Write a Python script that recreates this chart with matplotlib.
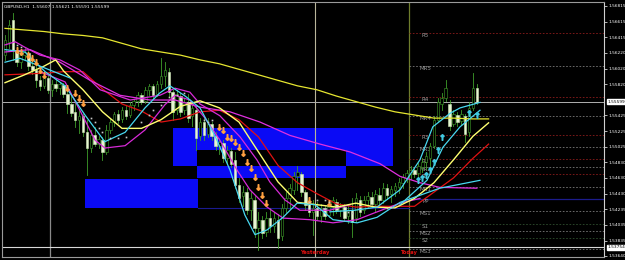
import matplotlib
matplotlib.use("Agg")
import matplotlib.pyplot as plt
from matplotlib.patches import Rectangle

# ---------------- data ----------------
opens = [1.5619,1.5636,1.5664,1.5626,1.5610,1.5619,1.5622,1.5605,1.5600,1.5587,
         1.5580,1.5590,1.5575,1.5582,1.5577,1.5581,1.5570,1.5557,1.5547,1.5537,
         1.5542,1.5521,1.5501,1.5517,1.5506,1.5511,1.5496,1.5524,1.5534,1.5544,
         1.5538,1.5549,1.5543,1.5556,1.5561,1.5568,1.5561,1.5575,1.5580,1.5570,
         1.5582,1.5592,1.5598,1.5572,1.5549,1.5567,1.5549,1.5559,1.5542,1.5549,
         1.5516,1.5534,1.5519,1.5531,1.5516,1.5504,1.5507,1.5488,1.5497,1.5486,
         1.5454,1.5440,1.5445,1.5422,1.5435,1.5399,1.5410,1.5394,1.5412,1.5402,
         1.5410,1.5389,1.5425,1.5437,1.5448,1.5465,1.5468,1.5445,1.5430,1.5420,
         1.5425,1.5415,1.5425,1.5416,1.5426,1.5432,1.5422,1.5426,1.5415,1.5422,
         1.5412,1.5435,1.5422,1.5435,1.5439,1.5430,1.5441,1.5435,1.5450,1.5443,
         1.5448,1.5451,1.5457,1.5463,1.5468,1.5473,1.5469,1.5477,1.5483,1.5488,
         1.5504,1.5537,1.5557,1.5564,1.5557,1.5531,1.5543,1.5535,1.5542,1.5521,
         1.5552,1.5577]
highs = [1.5645,1.5664,1.5672,1.5629,1.5623,1.5628,1.5626,1.5613,1.5610,1.5592,
         1.5596,1.5594,1.5587,1.5587,1.5585,1.5584,1.5575,1.5568,1.5562,1.5549,
         1.5544,1.5537,1.5524,1.5528,1.5516,1.5515,1.5530,1.5539,1.5547,1.5549,
         1.5553,1.5554,1.5559,1.5563,1.5572,1.5571,1.5578,1.5582,1.5582,1.5586,
         1.5615,1.5610,1.5603,1.5575,1.5575,1.5571,1.5564,1.5570,1.5558,1.5554,
         1.5539,1.5539,1.5539,1.5534,1.5521,1.5514,1.5511,1.5504,1.5501,1.5496,
         1.5463,1.5453,1.5450,1.5445,1.5440,1.5420,1.5415,1.5420,1.5425,1.5420,
         1.5417,1.5430,1.5445,1.5455,1.5471,1.5478,1.5471,1.5448,1.5437,1.5435,
         1.5432,1.5430,1.5427,1.5431,1.5439,1.5436,1.5431,1.5430,1.5427,1.5437,
         1.5444,1.5440,1.5440,1.5445,1.5445,1.5448,1.5450,1.5457,1.5455,1.5453,
         1.5457,1.5463,1.5468,1.5473,1.5478,1.5477,1.5482,1.5488,1.5496,1.5507,
         1.5542,1.5564,1.5571,1.5587,1.5562,1.5549,1.5547,1.5549,1.5544,1.5559,
         1.5596,1.5582]
lows = [1.5613,1.5628,1.5613,1.5605,1.5603,1.5613,1.5600,1.5595,1.5578,1.5575,
        1.5577,1.5571,1.5567,1.5573,1.5570,1.5566,1.5545,1.5542,1.5528,1.5520,
        1.5516,1.5467,1.5496,1.5504,1.5501,1.5486,1.5493,1.5520,1.5529,1.5533,
        1.5534,1.5538,1.5540,1.5549,1.5554,1.5557,1.5558,1.5568,1.5564,1.5567,
        1.5577,1.5580,1.5567,1.5537,1.5544,1.5542,1.5544,1.5534,1.5529,1.5498,
        1.5511,1.5511,1.5515,1.5511,1.5498,1.5493,1.5483,1.5481,1.5477,1.5450,
        1.5432,1.5427,1.5417,1.5410,1.5388,1.5372,1.5387,1.5389,1.5394,1.5394,
        1.5374,1.5384,1.5420,1.5425,1.5443,1.5448,1.5440,1.5422,1.5415,1.5391,
        1.5410,1.5407,1.5411,1.5413,1.5416,1.5418,1.5415,1.5408,1.5406,1.5388,
        1.5407,1.5415,1.5418,1.5425,1.5426,1.5420,1.5430,1.5431,1.5436,1.5432,
        1.5440,1.5444,1.5450,1.5458,1.5462,1.5464,1.5465,1.5471,1.5474,1.5478,
        1.5501,1.5534,1.5549,1.5561,1.5524,1.5529,1.5529,1.5531,1.5509,1.5516,
        1.5549,1.5557]
closes = [1.5638,1.5657,1.5626,1.5610,1.5619,1.5623,1.5605,1.5600,1.5587,1.5580,
          1.5591,1.5575,1.5582,1.5577,1.5582,1.5570,1.5557,1.5545,1.5537,1.5542,
          1.5521,1.5501,1.5517,1.5506,1.5512,1.5496,1.5524,1.5534,1.5544,1.5537,
          1.5549,1.5542,1.5556,1.5561,1.5568,1.5559,1.5575,1.5580,1.5568,1.5582,
          1.5592,1.5600,1.5572,1.5547,1.5570,1.5547,1.5559,1.5539,1.5552,1.5514,
          1.5534,1.5517,1.5531,1.5516,1.5504,1.5509,1.5488,1.5498,1.5481,1.5454,
          1.5437,1.5445,1.5422,1.5437,1.5399,1.5410,1.5393,1.5412,1.5402,1.5412,
          1.5387,1.5425,1.5437,1.5450,1.5465,1.5471,1.5445,1.5429,1.5420,1.5425,
          1.5415,1.5425,1.5415,1.5426,1.5435,1.5422,1.5427,1.5412,1.5422,1.5407,
          1.5437,1.5420,1.5435,1.5440,1.5430,1.5443,1.5435,1.5450,1.5441,1.5449,
          1.5453,1.5458,1.5464,1.5469,1.5473,1.5468,1.5478,1.5483,1.5491,1.5504,
          1.5537,1.5559,1.5564,1.5577,1.5529,1.5544,1.5534,1.5544,1.5519,1.5552,
          1.5577,1.5560]

slow_yellow_x = [0,5,10,15,20,25,30,35,40,45,50,55,60,65,70,75,80,85,90,95,100,105,110,115,120,124]
slow_yellow_y = [1.5653,1.5651,1.5649,1.5646,1.5644,1.5641,1.5634,1.5627,1.5623,1.5619,1.5613,1.5608,1.5601,
                 1.5594,1.5587,1.5580,1.5575,1.5567,1.5560,1.5553,1.5547,1.5543,1.5539,1.5539,1.5538,1.5538]
fast_yellow_x = [0,5,10,13,15,20,25,30,35,40,45,50,55,60,65,70,75,80,85,90,95,100,105,110,115,120,124]
fast_yellow_y = [1.5584,1.5594,1.5605,1.5613,1.5599,1.5575,1.5547,1.5526,1.5526,1.5537,1.5554,1.5561,1.5552,1.5534,
                 1.5496,1.5458,1.5432,1.5429,1.5426,1.5431,1.5426,1.5425,1.5437,1.5457,1.5486,1.5516,1.5533]
red_x = [0,5,10,15,20,25,30,35,40,45,50,55,60,65,70,75,80,85,90,95,100,105,110,115,120,124]
red_y = [1.5594,1.5595,1.5596,1.5598,1.5598,1.5576,1.5557,1.5548,1.5534,1.5538,1.5547,1.5549,1.5537,
         1.5515,1.5479,1.5457,1.5443,1.5430,1.5426,1.5427,1.5427,1.5427,1.5445,1.5463,1.5488,1.5506]
cyan1_x = [0,5.1,10.3,15.4,20.5,25.6,30.8,35.9,39.7,42.3,46.2,50,53.8,57.7,61.5,64.1,67.2,71.3,74.9,79.5,
           84.1,90.3,95.4,101.3,111.5,121.8]
cyan1_y = [1.5626,1.5623,1.5598,1.5580,1.5543,1.5509,1.5521,1.5552,1.5571,1.5580,1.5567,1.5552,1.5517,1.5473,
           1.5416,1.5391,1.5397,1.5413,1.5431,1.5429,1.5410,1.5406,1.5413,1.5432,1.5450,1.5460]
cyan2_x = [83.3,89.7,95.4,101.3,106.4,109.7,114.1,116.7,121.8]
cyan2_y = [1.5420,1.5422,1.5426,1.5448,1.5486,1.5528,1.5545,1.5552,1.5559]
cyan3_x = [101.3,108.2,112.3,116.7,121.8]
cyan3_y = [1.5429,1.5460,1.5502,1.5528,1.5549]
cyan4_x = [0,3.8,9,14.1,16.7]
cyan4_y = [1.5610,1.5615,1.5605,1.5595,1.5590]
mag_slow_x = [0,6.4,14.1,21.8,29.5,37.2,43.6,50,57.7,65.4,73.1,80.8,88.5,96.2,101.3,106.4,111.5,121]
mag_slow_y = [1.5623,1.5626,1.5610,1.5587,1.5568,1.5562,1.5562,1.5553,1.5547,1.5534,1.5517,1.5506,1.5496,
              1.5481,1.5465,1.5457,1.5451,1.5450]
mag_up_x = [0,2.6,5.1,9,14.1,19.2,24.4,32.1,39.7,43.6,47.4,50,55.1,60.3,64.6,67.9,71.8,75.6,83.3,88.5]
mag_up_y = [1.5632,1.5636,1.5629,1.5619,1.5613,1.5600,1.5575,1.5562,1.5568,1.5577,1.5572,1.5557,1.5542,1.5515,
            1.5486,1.5458,1.5435,1.5422,1.5422,1.5429]
mag_low_x = [9,15.4,19.2,23.1,25.6,30.8,35.9,41,43.6,47.4,51.3,55.1,59.5,62.8,67.2,71.3,78.2,84.1,90.3,94.4,101.3,106.4]
mag_low_y = [1.5598,1.5585,1.5549,1.5511,1.5501,1.5504,1.5524,1.5556,1.5568,1.5562,1.5539,1.5511,1.5473,1.5448,
             1.5426,1.5412,1.5410,1.5406,1.5410,1.5418,1.5431,1.5437]

down_arrow_x = [3,4,6,7,8,9,10,16,18,19,20,55,56,57,58,59,60,61,62,63,64,65,66,67,78,83]
down_arrow_y = [1.5626,1.5623,1.5619,1.5615,1.5610,1.5600,1.5594,1.5577,1.5571,1.5564,1.5558,1.5528,1.5524,1.5515,
                1.5514,1.5509,1.5502,1.5495,1.5483,1.5476,1.5464,1.5451,1.5441,1.5431,1.5435,1.5431]
up_arrow_x = [106,107,108,109,110,111,112,119,121]
up_arrow_y = [1.5460,1.5463,1.5467,1.5473,1.5483,1.5498,1.5515,1.5545,1.5543]
sar_x = [3,4,22,23,24,25,27,29,31,35,37,38,40,42,44,46,51,52,53,78,80,82,83,85,88,89,98,99]
sar_y = [1.5632,1.5629,1.5539,1.5534,1.5526,1.5521,1.5514,1.5514,1.5515,1.5534,1.5543,1.5549,1.5556,1.5566,
         1.5568,1.5571,1.5537,1.5534,1.5537,1.5432,1.5435,1.5435,1.5432,1.5426,1.5420,1.5418,1.5425,1.5426]

# rectangles: (bar_from, bar_to, price_low, price_high)
rect_a = (43.1, 99.5, 1.5478, 1.5526)
rect_b = (49.2, 87.4, 1.5463, 1.5498)
rect_c = (20.5, 49.5, 1.5425, 1.5462)

pivot_names = ["R5","MR5","R4","MR4","R3","MR3","R2","MR2","R1","MR1","PP","MS1","S1","MS2","S2","MS3"]
pivot_levels = [1.56472,1.56053,1.55659,1.55418,1.55177,1.55024,1.54872,1.54770,1.54681,1.54516,
                1.54364,1.54212,1.54046,1.53958,1.53869,1.53729]
old_pivot = 1.5425

tick_vals = [1.56815,1.56615,1.56415,1.56220,1.56020,1.55820,1.55425,1.55225,1.55025,1.54830,
             1.54630,1.54430,1.54235,1.54035,1.53835,1.53640]
tick_labels = ["1.56815","1.56615","1.56415","1.56220","1.56020","1.55820","1.55425","1.55225","1.55025",
               "1.54830","1.54630","1.54430","1.54235","1.54035","1.53835","1.53640"]
bid_price = 1.55599
bid_label = "1.55599"
hline_price = 1.5375
hline_label = "1.53754"
title = "GBPUSD,H1  1.55607 1.55621 1.55591 1.55599"
cross_bar = 11.5
yesterday_bar = 79.5
today_bar = 103.5

# ---------------- drawing ----------------
fig = plt.figure(figsize=(6.25, 2.6), dpi=100, facecolor="black")
ax = fig.add_axes([2/625, 3/260, 602/625, 255/260])
ax.set_facecolor("black")
XMAX = 153.6
ax.set_xlim(-0.77, XMAX)
ax.set_ylim(1.53626, 1.56865)

blue = "#0a0af5"
for (x0, x1, y0, y1) in (rect_a, rect_b, rect_c):
    ax.add_patch(Rectangle((x0, y0), x1 - x0, y1 - y0, facecolor=blue, edgecolor="none", zorder=1))
# overlapping area of two rectangles is drawn inverted (black)
ox0, ox1 = max(rect_a[0], rect_b[0]), min(rect_a[1], rect_b[1])
oy0, oy1 = max(rect_a[2], rect_b[2]), min(rect_a[3], rect_b[3])
ax.add_patch(Rectangle((ox0, oy0), ox1 - ox0, oy1 - oy0, facecolor="black", edgecolor="none", zorder=1.1))

# vertical separators / crosshair
ax.axvline(cross_bar, color="#8a8a8a", lw=0.9, zorder=2)
ax.axvline(yesterday_bar, color="#b8b59a", lw=0.8, zorder=2)
ax.axvline(today_bar, color="#6f7d2c", lw=0.9, zorder=2)
ax.axhline(bid_price, color="#b0b0b0", lw=0.7, zorder=2)
ax.axhline(hline_price, color="#d8d8d8", lw=0.8, zorder=2)
ax.plot([rect_c[1], today_bar], [old_pivot, old_pivot], color="#1a1a90", lw=0.8, zorder=2)

# pivot levels
for name, lvl in zip(pivot_names, pivot_levels):
    if name == "PP":
        ax.plot([today_bar, XMAX], [lvl, lvl], color="#1c1c8c", lw=0.9, zorder=2)
    else:
        if name.startswith("R"):
            col = "#8c1c1c"
        elif name.startswith("M"):
            col = "#7a7a7a"
        else:
            col = "#2f4f2f"
        ax.plot([today_bar, XMAX], [lvl, lvl], color=col, lw=0.6, ls=(0, (2, 2)), zorder=2)
    ax.text(107.8, lvl - 0.00035, name, color="#9a9a9a", fontsize=4.0, ha="center", va="center", zorder=2.5)

# candles
wick_col = "#3f9f2a"
for i in range(len(opens)):
    o, h, l, c = opens[i], highs[i], lows[i], closes[i]
    ax.plot([i, i], [l, h], color=wick_col, lw=0.6, zorder=3)
    bull = c >= o
    ax.add_patch(Rectangle((i - 0.33, min(o, c)), 0.66, max(abs(c - o), 0.00005),
                           facecolor="black" if bull else "#e6f6d2",
                           edgecolor=wick_col if bull else "#cfe8b8", lw=0.4, zorder=3.2))

# indicator lines
ax.plot(slow_yellow_x, slow_yellow_y, color="#e6e630", lw=0.9, zorder=4)
ax.plot(red_x, red_y, color="#e01212", lw=0.9, zorder=4)
ax.plot(mag_slow_x, mag_slow_y, color="#e030e0", lw=0.9, zorder=4)
ax.plot(mag_up_x, mag_up_y, color="#d82ad8", lw=0.9, zorder=4)
ax.plot(mag_low_x, mag_low_y, color="#d82ad8", lw=0.9, zorder=4)
ax.plot(fast_yellow_x, fast_yellow_y, color="#ffff70", lw=1.0, zorder=4.2)
for cx, cy in ((cyan1_x, cyan1_y), (cyan2_x, cyan2_y), (cyan3_x, cyan3_y), (cyan4_x, cyan4_y)):
    ax.plot(cx, cy, color="#48d8f0", lw=0.9, zorder=4.3)

# markers
ax.plot(down_arrow_x, down_arrow_y, ls="none", marker=r"$\downarrow$", ms=4, color="#ffa040", zorder=5)
ax.plot(up_arrow_x, up_arrow_y, ls="none", marker=r"$\uparrow$", ms=4, color="#40c8e0", zorder=5)
ax.plot(sar_x, sar_y, ls="none", marker="s", ms=1.2, color="#c8c8c8", mew=0, zorder=5)

# axes styling
for side, sp in ax.spines.items():
    sp.set_color("#9a9a9a")
    sp.set_linewidth(0.8)
ax.spines["right"].set_color("#d0d0d0")
ax.set_xticks([])
ax.yaxis.tick_right()
ax.set_yticks(tick_vals)
ax.set_yticklabels(tick_labels)
ax.tick_params(axis="y", length=2, width=0.5, colors="white", labelsize=3.1, pad=1)

ytr = ax.get_yaxis_transform()
ax.text(1.006, bid_price, bid_label, transform=ytr, fontsize=3.1, color="black", va="center", ha="left",
        bbox=dict(facecolor="white", edgecolor="white", pad=0.4), zorder=6, clip_on=False)
ax.text(1.006, hline_price, hline_label, transform=ytr, fontsize=3.1, color="black", va="center", ha="left",
        bbox=dict(facecolor="white", edgecolor="white", pad=0.4), zorder=6, clip_on=False)

xtr = ax.get_xaxis_transform()
ax.text(yesterday_bar, 0.016, "Yesterday", transform=xtr, color="#e01010", fontsize=3.8,
        fontweight="bold", ha="center", va="center", zorder=6)
ax.text(today_bar, 0.016, "Today", transform=xtr, color="#e01010", fontsize=3.8,
        fontweight="bold", ha="center", va="center", zorder=6)

fig.text(4/625, 1 - 7/260, title, color="white", fontsize=3.2, ha="left", va="center")

fig.savefig("out.png", dpi=100, facecolor="black")
